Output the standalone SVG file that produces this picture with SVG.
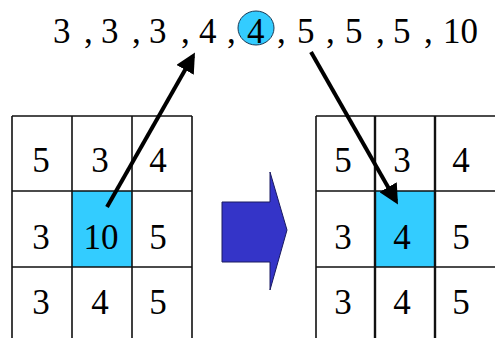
<svg xmlns="http://www.w3.org/2000/svg" width="495" height="338" viewBox="0 0 495 338">
<style>
.t{font-family:"Liberation Serif","Times New Roman",serif;font-size:35px;fill:#000}
.c{text-anchor:middle}
.g{fill:none;stroke:#111;stroke-width:1.6}
.cell{fill:#33ccff}
.arr{stroke:#000;stroke-width:4;fill:none}
</style>
<defs>
<marker id="ah" viewBox="0 0 10 10" refX="8" refY="5" markerWidth="5" markerHeight="5" orient="auto" markerUnits="strokeWidth">
<path d="M0,0 L10,5 L0,10 z" fill="#000"/>
</marker>
</defs>
<rect width="495" height="338" fill="#fff"/>
<g id="sequence">
<ellipse cx="256" cy="28" rx="18" ry="17" fill="#33ccff" stroke="#1a3a55" stroke-width="1"/>
<text class="t" x="53" y="43">3</text>
<text class="t" x="84" y="43">,</text>
<text class="t" x="101" y="43">3</text>
<text class="t" x="132" y="43">,</text>
<text class="t" x="149" y="43">3</text>
<text class="t" x="181" y="43">,</text>
<text class="t" x="199" y="43">4</text>
<text class="t" x="227" y="43">,</text>
<text class="t" x="247" y="43">4</text>
<text class="t" x="277" y="43">,</text>
<text class="t" x="297" y="43">5</text>
<text class="t" x="326" y="43">,</text>
<text class="t" x="345" y="43">5</text>
<text class="t" x="376" y="43">,</text>
<text class="t" x="393" y="43">5</text>
<text class="t" x="424" y="43">,</text>
<text class="t" x="443" y="43">10</text>
</g>
<g id="left-grid">
<rect class="cell" x="72" y="191" width="60" height="76"/>
<path class="g" d="M12,116 H192 M12,191 H192 M12,267 H192 M12,116 V345 M72,116 V345 M132,116 V345 M192,116 V345"/>
<text class="t c" x="41" y="172">5</text>
<text class="t c" x="100" y="172">3</text>
<text class="t c" x="158" y="172">4</text>
<text class="t c" x="41" y="249">3</text>
<text class="t c" x="101" y="249">10</text>
<text class="t c" x="158" y="249">5</text>
<text class="t c" x="41" y="314">3</text>
<text class="t c" x="100" y="314">4</text>
<text class="t c" x="158" y="314">5</text>
</g>
<g id="right-grid">
<rect class="cell" x="375" y="191" width="60" height="76"/>
<path class="g" d="M316,116 H496 M316,191 H496 M316,267 H496 M316,116 V345 M496,116 V345"/>
<path class="g" style="stroke-width:2.4" d="M375,116 V345 M435,116 V345"/>
<text class="t c" x="343" y="172">5</text>
<text class="t c" x="402" y="172">3</text>
<text class="t c" x="461" y="172">4</text>
<text class="t c" x="343" y="249">3</text>
<text class="t c" x="402" y="249">4</text>
<text class="t c" x="461" y="249">5</text>
<text class="t c" x="343" y="314">3</text>
<text class="t c" x="402" y="314">4</text>
<text class="t c" x="461" y="314">5</text>
</g>
<g id="big-arrow">
<path d="M222,202 H270 V172 L287,230 L270,290 V262 H222 Z" fill="#3434c8" stroke="#1a1a60" stroke-width="1"/>
</g>
<g id="connectors">
<line class="arr" x1="107" y1="207" x2="193" y2="56" marker-end="url(#ah)"/>
<line class="arr" x1="311" y1="52" x2="396" y2="201" marker-end="url(#ah)"/>
</g>
</svg>
